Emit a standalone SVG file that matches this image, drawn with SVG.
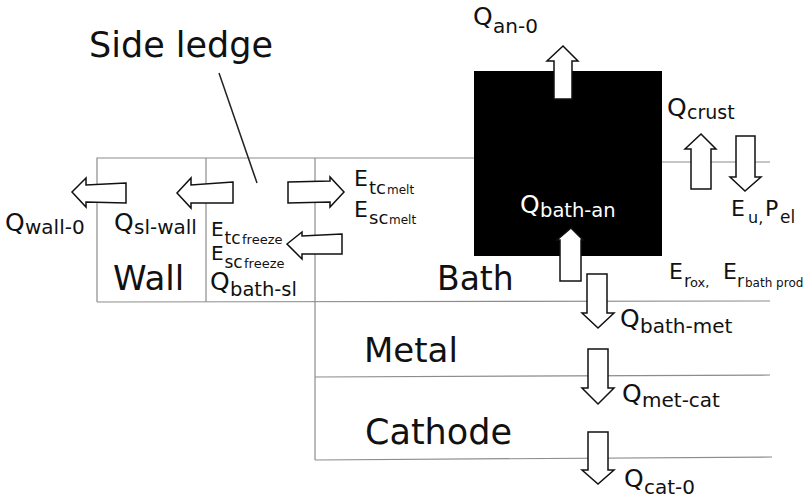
<svg xmlns="http://www.w3.org/2000/svg" width="806" height="499" viewBox="0 0 806 499">
<style>
text { font-family: "DejaVu Sans", Verdana, sans-serif; fill: #111; }
.big { font-size: 34px; }
.q { font-size: 25px; }
.s { font-size: 20px; }
.e { font-size: 22px; }
.es { font-size: 18px; }
.ess { font-size: 12px; }
.arr { fill: #fff; stroke: #111; stroke-width: 1.5; stroke-linejoin: miter; }
.ln { stroke: #8c8c8c; stroke-width: 1.2; fill: none; }
.lead { stroke: #222; stroke-width: 1.5; fill: none; }
.w { fill: #fff; }
</style>
<rect width="806" height="499" fill="#fff"/>

<g id="regions">
  <polyline class="ln" points="97,302 97,158 474,158"/>
  <line class="ln" x1="206" y1="158" x2="206" y2="302"/>
  <line class="ln" x1="315" y1="158" x2="315" y2="460"/>
  <line class="ln" x1="662" y1="162" x2="770" y2="162"/>
  <line class="ln" x1="97" y1="302" x2="770" y2="301"/>
  <line class="ln" x1="315" y1="377" x2="770" y2="375"/>
  <line class="ln" x1="315" y1="460" x2="772" y2="457"/>
</g>

<g id="anode">
  <rect x="474" y="71" width="188" height="185" fill="#000"/>
</g>

<g id="side-ledge">
  <text class="big" x="89" y="57" style="font-size:35px">Side ledge</text>
  <line class="lead" x1="219" y1="73" x2="257" y2="183"/>
</g>
<g id="wall">
  <text class="big" x="113" y="290">Wall</text>
</g>
<g id="bath">
  <text class="big" x="437" y="290" style="font-size:33px">Bath</text>
</g>
<g id="metal">
  <text class="big" x="364" y="362">Metal</text>
</g>
<g id="cathode">
  <text class="big" x="365" y="444" style="font-size:35px">Cathode</text>
</g>

<g id="connectors">
  <polygon class="arr" points="126,183 86,185 86,178 72,192 86,207 86,202 126,203"/>
  <polygon class="arr" points="233,182 191,185 191,178 177,193 191,208 191,203 233,203"/>
  <polygon class="arr" points="288,182 330,181 330,177 344,192 330,207 330,202 288,203"/>
  <polygon class="arr" points="342,234 302,236 302,232 287,244 302,259 302,254 342,254"/>
  <polygon class="arr" points="554,99 554,61 547,61 563,46 578,61 572,61 572,99"/>
  <polygon class="arr" points="560,281 560,240 557,240 571,228 583,240 581,240 581,281"/>
  <polygon class="arr" points="691,189 691,149 685,149 701,134 716,149 711,149 711,189"/>
  <polygon class="arr" points="736,136 755,136 755,177 761,177 745,191 730,177 736,177"/>
  <polygon class="arr" points="587,274 607,274 607,313 614,313 598,328 582,313 587,313"/>
  <polygon class="arr" points="588,349 608,349 608,388 614,388 598,404 582,388 588,388"/>
  <polygon class="arr" points="588,432 608,432 608,470 614,470 598,484 582,470 588,470"/>
</g>

<g id="labels">
  <text><tspan class="q" x="5" y="231">Q</tspan><tspan class="s" x="25" y="234">wall-0</tspan></text>
  <text><tspan class="q" x="114" y="231">Q</tspan><tspan class="s" x="134" y="234">sl-wall</tspan></text>
  <text><tspan class="q" x="210" y="290">Q</tspan><tspan class="s" x="230" y="296" style="font-size:19.5px">bath-sl</tspan></text>
  <text><tspan class="e" x="211" y="236" style="font-size:20px">E</tspan><tspan class="es" x="224.5" y="244" style="font-size:17px">tc</tspan><tspan class="ess" x="242" y="244" style="font-size:13px">freeze</tspan></text>
  <text><tspan class="e" x="211" y="260" style="font-size:20px">E</tspan><tspan class="es" x="224.5" y="268" style="font-size:17px">sc</tspan><tspan class="ess" x="244" y="268" style="font-size:13px">freeze</tspan></text>
  <text><tspan class="e" x="354" y="186">E</tspan><tspan class="es" x="369" y="194">tc</tspan><tspan class="ess" x="387" y="194">melt</tspan></text>
  <text><tspan class="e" x="354" y="217">E</tspan><tspan class="es" x="369" y="224">sc</tspan><tspan class="ess" x="389" y="224">melt</tspan></text>
  <text><tspan class="q" x="473" y="25">Q</tspan><tspan class="s" x="493" y="33">an-0</tspan></text>
  <text><tspan class="q" x="667" y="116">Q</tspan><tspan class="s" x="687" y="119" style="font-size:19px">crust</tspan></text>
  <text class="w"><tspan class="q w" x="520" y="213">Q</tspan><tspan class="s w" x="540" y="217" style="font-size:19.5px">bath-an</tspan></text>
  <text><tspan class="e" x="731" y="216">E</tspan><tspan class="es" x="748" y="223" style="font-size:16px">u,</tspan><tspan class="e" x="765" y="216">P</tspan><tspan class="es" x="780" y="223" style="font-size:17px">el</tspan></text>
  <text><tspan class="e" x="669" y="279">E</tspan><tspan class="es" x="684" y="287" style="font-size:17px">r</tspan><tspan class="ess" x="690" y="287" style="font-size:13px">ox,</tspan><tspan class="e" x="723" y="279">E</tspan><tspan class="es" x="737" y="287" style="font-size:17px">r</tspan><tspan class="ess" x="745" y="287">bath prod</tspan></text>
  <text><tspan class="q" x="620" y="327">Q</tspan><tspan class="s" x="640" y="333">bath-met</tspan></text>
  <text><tspan class="q" x="622" y="402">Q</tspan><tspan class="s" x="642" y="407">met-cat</tspan></text>
  <text><tspan class="q" x="624" y="487">Q</tspan><tspan class="s" x="644" y="494">cat-0</tspan></text>
</g>
</svg>
